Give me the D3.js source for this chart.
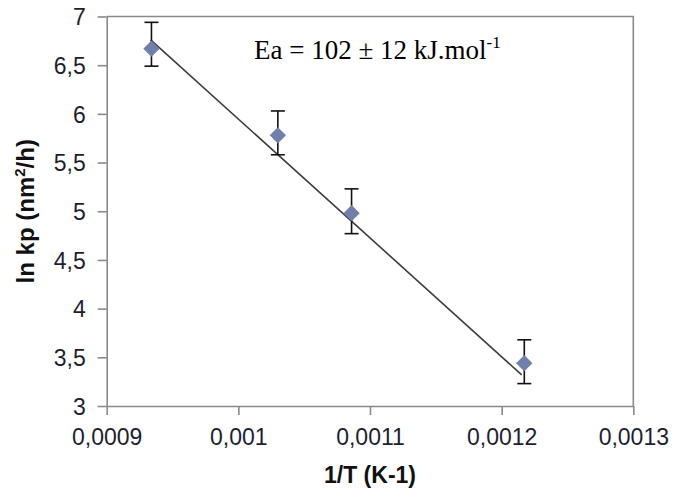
<!DOCTYPE html>
<html>
<head>
<meta charset="utf-8">
<script src="https://cdn.jsdelivr.net/npm/d3@7"></script>
<style>
  html, body { margin: 0; padding: 0; background: #fff; }
  svg { display: block; }
</style>
</head>
<body>
<svg id="chart" width="674" height="495"></svg>
<script>
// ---- data ----
const invT      = [0.000934, 0.001030, 0.001086, 0.0012172];
const lnKp      = [6.67, 5.78, 4.98, 3.44];
const errTop    = [6.94, 6.03, 5.23, 3.68];
const errBottom = [6.49, 5.58, 4.77, 3.23];
const trendX    = [0.0009334, 0.0012152];
const trendY    = [6.76, 3.32];
const xTickValues = [0.0009, 0.0010, 0.0011, 0.0012, 0.0013];
const xTickLabels = ["0,0009", "0,001", "0,0011", "0,0012", "0,0013"];
const yTickValues = [3, 3.5, 4, 4.5, 5, 5.5, 6, 6.5, 7];
const yTickLabels = ["3", "3,5", "4", "4,5", "5", "5,5", "6", "6,5", "7"];
const xTitle = "1/T (K-1)";
const annotation = "Ea = 102 \u00b1 12 kJ.mol";
const annotationSup = "-1";

// ---- layout ----
const svg = d3.select("#chart");
const L = 106.7, R = 633.3, T = 16.5, B = 406;
const x = d3.scaleLinear().domain([0.0009, 0.0013]).range([L, R]);
const y = d3.scaleLinear().domain([3, 7]).range([B, T]);
const axisColor = "#8a8a8a";
const labelColor = "#1e1e30";

// plot border (top & right)
svg.append("path")
  .attr("d", `M${L},${T}H${R}V${B}`)
  .attr("fill", "none").attr("stroke", axisColor).attr("stroke-width", 1.6);

// y axis
const yAxis = d3.axisLeft(y).tickValues(yTickValues)
  .tickFormat((d, i) => yTickLabels[i]).tickSize(9).tickSizeOuter(0).tickPadding(12);
const gy = svg.append("g").attr("transform", `translate(${L},0)`).call(yAxis);
gy.select(".domain").attr("stroke", axisColor).attr("stroke-width", 1.6);
gy.selectAll(".tick line").attr("stroke", axisColor).attr("stroke-width", 1.6);
gy.selectAll(".tick text")
  .attr("font-family", "Liberation Sans, Arial, sans-serif")
  .attr("font-size", 23).attr("fill", labelColor).attr("dy", "0.36em");

// x axis
const xAxis = d3.axisBottom(x).tickValues(xTickValues)
  .tickFormat((d, i) => xTickLabels[i]).tickSize(9).tickSizeOuter(0).tickPadding(10);
const gx = svg.append("g").attr("transform", `translate(0,${B})`).call(xAxis);
gx.select(".domain").attr("stroke", axisColor).attr("stroke-width", 1.6);
gx.selectAll(".tick line").attr("stroke", axisColor).attr("stroke-width", 1.6);
gx.selectAll(".tick text")
  .attr("font-family", "Liberation Sans, Arial, sans-serif")
  .attr("font-size", 23).attr("fill", labelColor).attr("dy", "0.85em");

// axis titles
svg.append("text")
  .attr("x", (L + R) / 2).attr("y", 483)
  .attr("text-anchor", "middle")
  .attr("font-family", "Liberation Sans, Arial, sans-serif")
  .attr("font-weight", "bold").attr("font-size", 23).attr("fill", "#111")
  .text(xTitle);

const yt = svg.append("text")
  .attr("transform", `translate(34,${(T + B) / 2}) rotate(-90)`)
  .attr("text-anchor", "middle")
  .attr("font-family", "Liberation Sans, Arial, sans-serif")
  .attr("font-weight", "bold").attr("font-size", 24).attr("fill", "#111");
yt.append("tspan").text("ln kp (nm");
yt.append("tspan").attr("font-size", 15).attr("dy", -9).text("2");
yt.append("tspan").attr("dy", 9).text("/h)");

// trend line
const line = d3.line().x(d => x(d[0])).y(d => y(d[1]));
svg.append("path")
  .datum(trendX.map((v, i) => [v, trendY[i]]))
  .attr("d", line)
  .attr("fill", "none").attr("stroke", "#3c3c3c").attr("stroke-width", 1.6);

// error bars
const pts = invT.map((v, i) => ({ x: v, y: lnKp[i], hi: errTop[i], lo: errBottom[i] }));
const eb = svg.append("g").attr("stroke", "#111").attr("stroke-width", 1.6);
pts.forEach(p => {
  eb.append("line").attr("x1", x(p.x)).attr("x2", x(p.x)).attr("y1", y(p.hi)).attr("y2", y(p.lo));
  eb.append("line").attr("x1", x(p.x) - 7).attr("x2", x(p.x) + 7).attr("y1", y(p.hi)).attr("y2", y(p.hi));
  eb.append("line").attr("x1", x(p.x) - 7).attr("x2", x(p.x) + 7).attr("y1", y(p.lo)).attr("y2", y(p.lo));
});

// diamonds
const sym = d3.symbol().type(d3.symbolDiamond2).size(170);
svg.append("g").selectAll("path").data(pts).join("path")
  .attr("transform", d => `translate(${x(d.x)},${y(d.y)})`)
  .attr("d", sym)
  .attr("fill", "#7080aa");

// annotation
const ann = svg.append("text")
  .attr("x", 254).attr("y", 59)
  .attr("font-family", "Liberation Serif, Times New Roman, serif")
  .attr("font-size", 27).attr("fill", "#000");
ann.append("tspan").text(annotation);
ann.append("tspan").attr("font-size", 17).attr("dy", -11).text(annotationSup);
</script>
</body>
</html>
